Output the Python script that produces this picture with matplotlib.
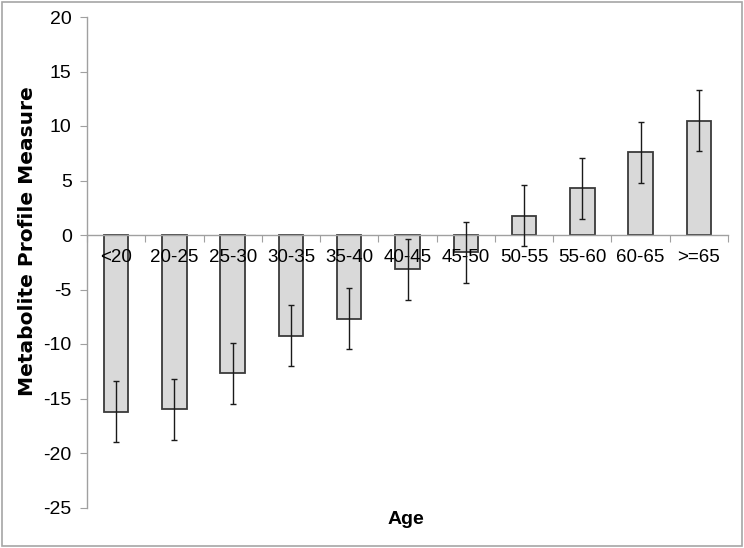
import matplotlib
matplotlib.use("Agg")
import matplotlib.pyplot as plt
from matplotlib.patches import Rectangle
import numpy as np

categories = ["<20", "20-25", "25-30", "30-35", "35-40", "40-45", "45-50",
              "50-55", "55-60", "60-65", ">=65"]
values = [-16.2, -16.0, -12.7, -9.25, -7.7, -3.15, -1.6, 1.75, 4.3, 7.6, 10.5]
errors = [2.8, 2.8, 2.8, 2.8, 2.8, 2.8, 2.8, 2.8, 2.8, 2.8, 2.8]
yticks = [20, 15, 10, 5, 0, -5, -10, -15, -20, -25]

plt.rcParams['font.family'] = ['Liberation Sans', 'DejaVu Sans']

fig = plt.figure(figsize=(7.44, 5.48), dpi=100)
fig.patch.set_facecolor('white')
fig.patches.append(Rectangle((0.003, 0.004), 0.994, 0.992, transform=fig.transFigure,
                             fill=False, edgecolor='#a6a6a6', linewidth=1.2))

ax = fig.add_axes([87/744, 1-507.5/548, (728-87)/744, (507.5-17)/548])
ax.set_axisbelow(False)
x = np.arange(len(categories))
ax.bar(x, values, width=0.42, color='#d9d9d9', edgecolor='#3a3a3a', linewidth=1.3, zorder=1)
ax.errorbar(x, values, yerr=errors, fmt='none', ecolor='#1a1a1a', elinewidth=1.0,
            capsize=2.5, capthick=1.0, zorder=3)

ax.set_xlim(-0.5, len(categories) - 0.5)
ax.set_ylim(-25, 20)
ax.set_yticks(yticks)
ax.set_yticklabels([str(t) for t in yticks], fontsize=14)

for s in ['top', 'right']:
    ax.spines[s].set_visible(False)
ax.spines['left'].set_color('#a0a0a0')
ax.spines['bottom'].set_color('#a0a0a0')
ax.spines['bottom'].set_position(('data', 0))
ax.spines['left'].set_linewidth(1.0)
ax.spines['bottom'].set_linewidth(1.0)

ax.set_xticks(np.arange(len(categories) + 1) - 0.5)
ax.set_xticklabels([])
ax.set_xticks(x, minor=True)
ax.set_xticklabels(categories, minor=True, fontsize=13.5)
ax.tick_params(axis='x', which='major', direction='out', length=5, color='#a0a0a0')
ax.tick_params(axis='x', which='minor', length=0, pad=10)
ax.tick_params(axis='y', direction='out', length=5, color='#a0a0a0', pad=6)

fig.text(28/744, 1-241/548, "Metabolite Profile Measure", rotation=90,
         fontsize=14.5, fontweight='bold', family='DejaVu Sans', ha='center', va='center')
fig.text(406/744, 1-520/548, "Age", fontsize=14, fontweight='bold', ha='center', va='center')

fig.savefig("out.png", dpi=100)
